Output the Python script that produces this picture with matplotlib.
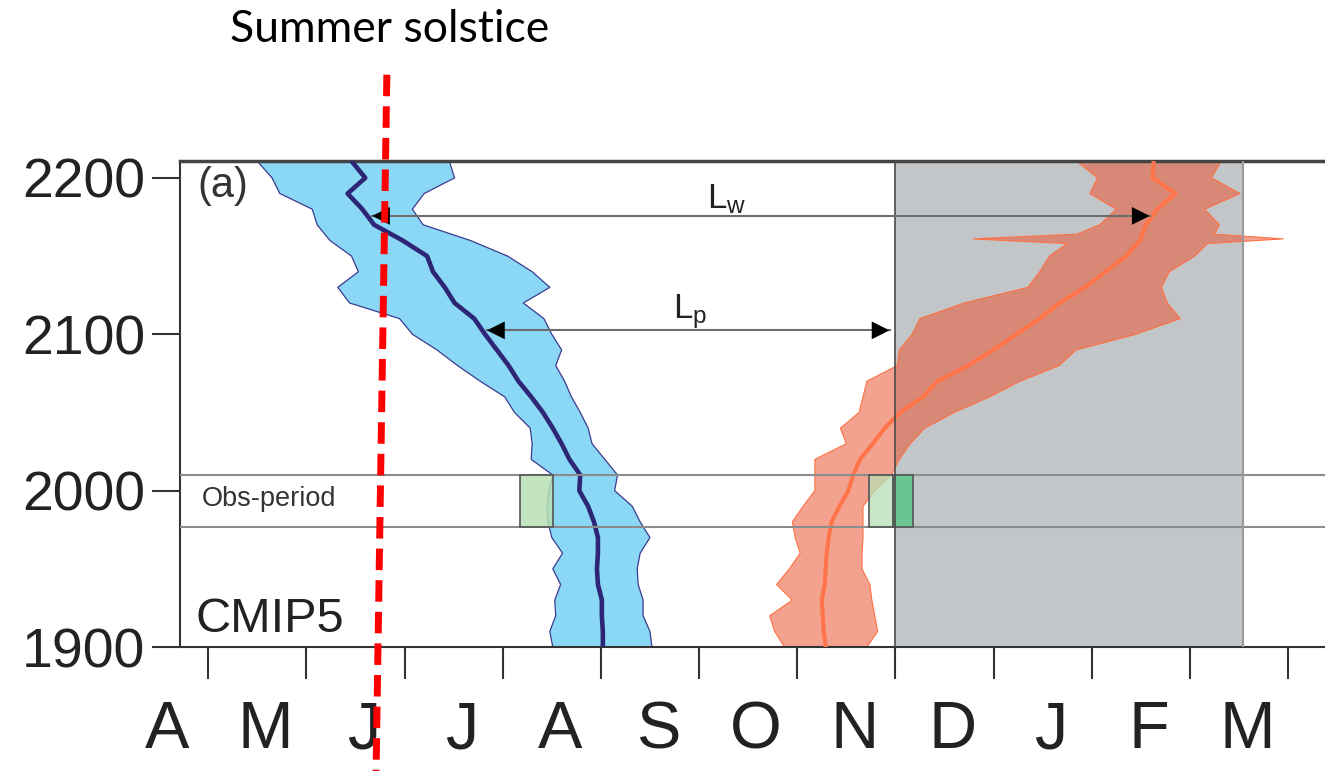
import matplotlib
matplotlib.use('Agg')
import matplotlib.pyplot as plt
from matplotlib.patches import Rectangle
from matplotlib.transforms import blended_transform_factory

plt.rcParams['font.family'] = ['Liberation Sans', 'DejaVu Sans']
plt.rcParams['mathtext.fontset'] = 'custom'
plt.rcParams['mathtext.rm'] = 'Liberation Sans'
plt.rcParams['mathtext.it'] = 'Liberation Sans'

# x axis in months: 0 = 1 April, 1 = 1 May, ... 12 = 1 April next year
months = ['A', 'M', 'J', 'J', 'A', 'S', 'O', 'N', 'D', 'J', 'F', 'M']
year_ticks = [1900, 2000, 2100, 2200]

years = list(range(1900, 2211, 10))

# summer onset (blue): ensemble mean and spread
blue_mean = [5.02, 5.02, 5.01, 5.01, 4.97, 4.96, 4.97, 4.97, 4.93, 4.87, 4.78,
             4.79, 4.68, 4.60, 4.51, 4.41, 4.29, 4.16, 4.06, 3.94, 3.82, 3.71,
             3.51, 3.41, 3.29, 3.23, 2.98, 2.69, 2.57, 2.42, 2.60, 2.47]
blue_lo = [4.51, 4.48, 4.54, 4.53, 4.59, 4.51, 4.61, 4.50, 4.46, 4.45, 4.47,
           4.51, 4.29, 4.30, 4.28, 4.12, 4.02, 3.77, 3.54, 3.33, 3.08, 2.95,
           2.44, 2.32, 2.53, 2.46, 2.24, 2.11, 2.06, 1.73, 1.65, 1.51]
blue_hi = [5.52, 5.50, 5.43, 5.43, 5.38, 5.37, 5.40, 5.50, 5.40, 5.32, 5.14,
           5.17, 5.04, 4.91, 4.87, 4.79, 4.70, 4.63, 4.54, 4.60, 4.50, 4.42,
           4.21, 4.48, 4.30, 4.05, 3.67, 3.19, 3.08, 3.20, 3.51, 3.46]

# freeze-up (red): ensemble mean and spread
red_mean = [7.29, 7.27, 7.26, 7.25, 7.28, 7.29, 7.30, 7.32, 7.35, 7.43, 7.52,
            7.57, 7.64, 7.77, 7.89, 8.05, 8.28, 8.43, 8.74, 9.00, 9.23, 9.47,
            9.67, 9.93, 10.14, 10.35, 10.49, 10.55, 10.67, 10.85, 10.62, 10.63]
red_years = [1900, 1910, 1920, 1930, 1940, 1950, 1960, 1970, 1980, 1990, 2000,
             2010, 2020, 2030, 2040, 2050, 2060, 2070, 2080, 2090, 2100, 2110,
             2120, 2130, 2140, 2150, 2158, 2161, 2164, 2170, 2180, 2190, 2200,
             2210]
red_lo = [6.87, 6.77, 6.72, 6.95, 6.79, 6.92, 7.03, 6.98, 6.95, 7.06, 7.18,
          7.18, 7.18, 7.50, 7.44, 7.63, 7.67, 7.71, 8.02, 8.04, 8.17, 8.25,
          8.70, 9.35, 9.47, 9.57, 9.75, 8.79, 9.85, 10.08, 10.25, 9.98, 10.06,
          9.86]
red_hi = [7.71, 7.82, 7.79, 7.76, 7.74, 7.66, 7.66, 7.67, 7.67, 7.67, 7.79,
          7.96, 8.04, 8.15, 8.30, 8.60, 8.96, 9.27, 9.67, 9.84, 10.45, 10.90,
          10.77, 10.71, 10.79, 11.05, 11.18, 11.95, 11.25, 11.30, 11.15, 11.51,
          11.22, 11.31]

obs_period = (1977, 2010)
obs_blue = (4.18, 4.51)
obs_red = (7.73, 7.98)
obs_red_dark = (7.98, 8.18)
winter = (8.0, 11.54)
lw_arrow = (2.67, 10.59, 2175.7)
lp_arrow = (3.84, 7.94, 2102.5)
solstice_line = ([2.82, 2.71], [2266, 1820])

fig = plt.figure(figsize=(13.25, 7.71), dpi=100)
ax = fig.add_axes([180 / 1325, 124 / 771, 1167 / 1325, 486.3 / 771])
ax.set_xlim(0.713, 12.6)
ax.set_ylim(1900, 2211)

# winter season shading
ax.axvspan(*winter, color='#c3c6c9', lw=0, zorder=0)
ax.axvline(winter[0], color='#4a4a4a', lw=1.2, zorder=5)
ax.axvline(winter[1], color='#9a9a9a', lw=1.5, zorder=5)

# blue band
ax.fill_betweenx(years, blue_lo, blue_hi, facecolor='#8ad7f6', lw=0, zorder=2)
ax.plot(blue_lo, years, color='#3b3b8f', lw=0.9, zorder=2)
ax.plot(blue_hi, years, color='#3b3b8f', lw=0.9, zorder=2)
ax.plot(blue_mean, years, color='#2d2575', lw=3.3, zorder=3)

# red band
ax.fill_betweenx(red_years, red_lo, red_hi, facecolor='#eb5635', alpha=0.55,
                 lw=0, zorder=2)
ax.plot(red_lo, red_years, color='#ff7043', lw=0.8, zorder=2)
ax.plot(red_hi, red_years, color='#ff7043', lw=0.8, zorder=2)
ax.plot(red_mean, years, color='#ff7448', lw=3.0, zorder=3)

# observation period
for yr in obs_period:
    ax.axhline(yr, color='#8c8c8c', lw=1.5, zorder=4)
h = obs_period[1] - obs_period[0]
for (x0, x1), fc in [(obs_blue, (0.72, 0.88, 0.70, 0.85)),
                     (obs_red, (0.72, 0.88, 0.70, 0.75)),
                     (obs_red_dark, (0.35, 0.78, 0.53, 0.85))]:
    ax.add_patch(Rectangle((x0, obs_period[0]), x1 - x0, h, facecolor=fc,
                           edgecolor='#555555', lw=1.2, zorder=4))
ax.text(0.934, 1990, 'Obs-period', fontsize=19.5, color='#333333',
        ha='left', va='baseline', zorder=6)

# season length arrows
for x0, x1, yr in [lw_arrow, lp_arrow]:
    ax.plot([x0, x1], [yr, yr], color='#6e6e6e', lw=1.5, zorder=6)
    for tip, tail in [(x0, x0 + 0.3), (x1, x1 - 0.3)]:
        ax.annotate('', xy=(tip, yr), xytext=(tail, yr),
                    arrowprops=dict(arrowstyle='-|>', color='black', lw=0,
                                    mutation_scale=32, shrinkA=0, shrinkB=0),
                    zorder=7)
ax.text(6.08, 2180.7, r'$\mathregular{L_w}$', fontsize=25, color='#222222',
        ha='left', va='baseline', zorder=7)
ax.text(5.73, 2110.4, r'$\mathregular{L_p}$', fontsize=25, color='#222222',
        ha='left', va='baseline', zorder=7)

ax.text(0.886, 2194.8, '(a)', fontsize=30, color='#333333', ha='left',
        va='center')
ax.text(0.866, 1909.4, 'CMIP5', fontsize=35, color='#222222', ha='left',
        va='baseline')

# axes styling
for side in ['left', 'bottom']:
    ax.spines[side].set_linewidth(1.5)
    ax.spines[side].set_color('#333333')
ax.spines['top'].set_linewidth(2.5)
ax.spines['top'].set_color('#444444')
ax.spines['right'].set_visible(False)

ax.set_yticks(year_ticks)
ax.tick_params(axis='y', length=20, width=1.5, color='#333333',
               labelsize=40, labelcolor='#222222', pad=5)
ax.set_xticks(range(1, 13))
ax.set_xticklabels([])
ax.tick_params(axis='x', length=23, width=1.5, color='#333333')

trans = blended_transform_factory(ax.transData, ax.transAxes)
for i, lab in enumerate(months):
    ax.text(i + 0.58, -0.208, lab, transform=trans, fontsize=48,
            color='#222222', ha='center', va='baseline', clip_on=False)

# summer solstice marker
ax.plot(*solstice_line, color='red', lw=5, dashes=(3.1, 1.45),
        clip_on=False, zorder=10)
fig.text(390 / 1325, (771 - 41.7) / 771, 'Summer solstice', fontsize=32,
         family='Lato', color='black', ha='center', va='baseline')

fig.savefig('out.png', dpi=100)
